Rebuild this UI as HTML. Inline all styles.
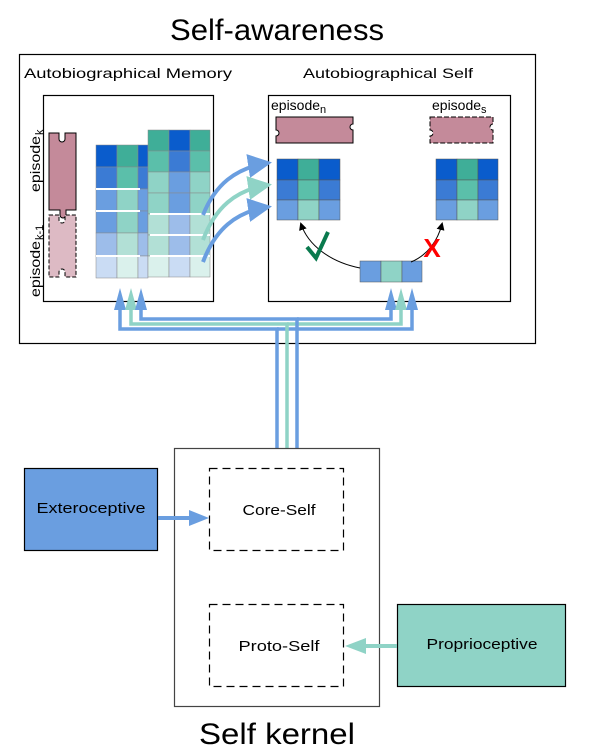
<!DOCTYPE html>
<html><head><meta charset="utf-8"><style>
html,body{margin:0;padding:0;background:#fff;}
svg{display:block;font-family:"Liberation Sans",sans-serif;}
</style></head><body>
<svg width="590" height="752" viewBox="0 0 590 752" xmlns="http://www.w3.org/2000/svg">
<defs>
<marker id="ab" markerWidth="6" markerHeight="6" refX="5" refY="3" orient="auto" markerUnits="strokeWidth"><path d="M0,0 L6,3 L0,6 z" fill="#6a9ee0"/></marker>
<marker id="at" markerWidth="6" markerHeight="6" refX="5" refY="3" orient="auto" markerUnits="strokeWidth"><path d="M0,0 L6,3 L0,6 z" fill="#8fd3c6"/></marker>
<marker id="ak" markerWidth="8" markerHeight="8" refX="6" refY="4" orient="auto" markerUnits="userSpaceOnUse"><path d="M0,0 L8,4 L0,8 z" fill="#000"/></marker>
</defs>

<text x="277" y="40" font-size="30" text-anchor="middle" textLength="214" lengthAdjust="spacingAndGlyphs">Self-awareness</text>
<rect x="19.5" y="54.5" width="516" height="289" fill="none" stroke="#000" stroke-width="1.2"/>
<text x="128" y="78" font-size="14" text-anchor="middle" textLength="208" lengthAdjust="spacingAndGlyphs">Autobiographical Memory</text>
<text x="388" y="78" font-size="14" text-anchor="middle" textLength="170" lengthAdjust="spacingAndGlyphs">Autobiographical Self</text>

<rect x="43.5" y="95.5" width="170" height="206" fill="none" stroke="#000" stroke-width="1.2"/>
<rect x="268.5" y="95.5" width="242" height="206" fill="none" stroke="#000" stroke-width="1.2"/>

<!-- episode labels left -->
<text transform="translate(40,192) rotate(-90)" font-size="14" textLength="56" lengthAdjust="spacingAndGlyphs">episode</text>
<text transform="translate(43,135) rotate(-90)" font-size="11">k</text>
<text transform="translate(40,297) rotate(-90)" font-size="14" textLength="56" lengthAdjust="spacingAndGlyphs">episode</text>
<text transform="translate(43,240) rotate(-90)" font-size="11">k-1</text>

<path d="M49,133 h10 v6 a3,3 0 0 0 6,0 v-6 h11 v77 h-10 v5 a3,3 0 0 1 -6,0 v-5 h-11 z" fill="#c48a9a" stroke="#000" stroke-width="1"/>
<path d="M49,215 h10 v5 a3,3 0 0 0 6,0 v-5 h11 v62 h-11 v-5 a3,3 0 0 0 -6,0 v5 h-10 z" fill="#ddbac4" stroke="#000" stroke-width="1" stroke-dasharray="4,2"/>

<!-- left grid -->
<g stroke="#888" stroke-width="0.5">
<rect x="96" y="145" width="21" height="22" fill="#0a5ccc"/><rect x="117" y="145" width="21" height="22" fill="#3fae98"/><rect x="138" y="145" width="10" height="22" fill="#0a5ccc"/>
<rect x="96" y="167" width="21" height="22" fill="#3b7bd4"/><rect x="117" y="167" width="21" height="22" fill="#5bbfaa"/><rect x="138" y="167" width="10" height="22" fill="#3b7bd4"/>
<rect x="96" y="189" width="21" height="22" fill="#6a9ee0"/><rect x="117" y="189" width="21" height="22" fill="#8fd3c6"/><rect x="138" y="189" width="10" height="22" fill="#6a9ee0"/>
<rect x="96" y="211" width="21" height="22" fill="#6a9ee0"/><rect x="117" y="211" width="21" height="22" fill="#8fd3c6"/><rect x="138" y="211" width="10" height="22" fill="#6a9ee0"/>
<rect x="96" y="233" width="21" height="23" fill="#9dbdea"/><rect x="117" y="233" width="21" height="23" fill="#b2e0d6"/><rect x="138" y="233" width="10" height="23" fill="#9dbdea"/>
<rect x="96" y="256" width="21" height="22" fill="#cadcf4"/><rect x="117" y="256" width="21" height="22" fill="#daf1ec"/><rect x="138" y="256" width="10" height="22" fill="#cadcf4"/>

<rect x="148" y="130" width="21" height="21" fill="#3fae98"/><rect x="169" y="130" width="21" height="21" fill="#0a5ccc"/><rect x="190" y="130" width="20" height="21" fill="#3fae98"/>
<rect x="148" y="151" width="21" height="21" fill="#5bbfaa"/><rect x="169" y="151" width="21" height="21" fill="#3b7bd4"/><rect x="190" y="151" width="20" height="21" fill="#5bbfaa"/>
<rect x="148" y="172" width="21" height="21" fill="#8fd3c6"/><rect x="169" y="172" width="21" height="21" fill="#6a9ee0"/><rect x="190" y="172" width="20" height="21" fill="#8fd3c6"/>
<rect x="148" y="193" width="21" height="21" fill="#8fd3c6"/><rect x="169" y="193" width="21" height="21" fill="#6a9ee0"/><rect x="190" y="193" width="20" height="21" fill="#8fd3c6"/>
<rect x="148" y="214" width="21" height="21" fill="#b2e0d6"/><rect x="169" y="214" width="21" height="21" fill="#9dbdea"/><rect x="190" y="214" width="20" height="21" fill="#b2e0d6"/>
<rect x="148" y="235" width="21" height="21" fill="#b2e0d6"/><rect x="169" y="235" width="21" height="21" fill="#9dbdea"/><rect x="190" y="235" width="20" height="21" fill="#b2e0d6"/>
<rect x="148" y="256" width="21" height="21" fill="#daf1ec"/><rect x="169" y="256" width="21" height="21" fill="#cadcf4"/><rect x="190" y="256" width="20" height="21" fill="#daf1ec"/>
</g>
<g stroke="#fff" stroke-width="2">
<line x1="96" y1="189" x2="140" y2="189"/><line x1="96" y1="211" x2="140" y2="211"/><line x1="96" y1="256" x2="140" y2="256"/>
<line x1="150" y1="214" x2="210" y2="214"/><line x1="150" y1="235" x2="210" y2="235"/><line x1="150" y1="256" x2="210" y2="256"/>
</g>

<!-- curved arrows to right -->
<path d="M203,215 C215,185 235,168 268,163" fill="none" stroke="#6a9ee0" stroke-width="4" marker-end="url(#ab)"/>
<path d="M203,240 C215,208 235,190 268,185" fill="none" stroke="#8fd3c6" stroke-width="4" marker-end="url(#at)"/>
<path d="M203,262 C215,230 235,212 268,207" fill="none" stroke="#6a9ee0" stroke-width="4" marker-end="url(#ab)"/>

<!-- right box contents -->
<text x="271" y="110" font-size="14">episode</text><text x="320" y="113" font-size="11">n</text>
<text x="432" y="110" font-size="14">episode</text><text x="481" y="113" font-size="11">s</text>
<path d="M276,117 h77 v7 a3,3 0 0 0 0,6 v13 h-77 v-7 a3,3 0 0 0 0,-6 z" fill="#c48a9a" stroke="#000" stroke-width="1"/>
<path d="M430,117 h63 v7 a3,3 0 0 0 0,6 v13 h-63 v-7 a3,3 0 0 0 0,-6 z" fill="#c48a9a" stroke="#000" stroke-width="1" stroke-dasharray="5,2"/>

<g stroke="#555" stroke-width="0.5">
<rect x="277" y="159" width="21" height="21" fill="#0a5ccc"/><rect x="298" y="159" width="21" height="21" fill="#3fae98"/><rect x="319" y="159" width="21" height="21" fill="#0a5ccc"/>
<rect x="277" y="180" width="21" height="20" fill="#3b7bd4"/><rect x="298" y="180" width="21" height="20" fill="#5bbfaa"/><rect x="319" y="180" width="21" height="20" fill="#3b7bd4"/>
<rect x="277" y="200" width="21" height="20" fill="#6a9ee0"/><rect x="298" y="200" width="21" height="20" fill="#8fd3c6"/><rect x="319" y="200" width="21" height="20" fill="#6a9ee0"/>
<rect x="436" y="159" width="21" height="21" fill="#0a5ccc"/><rect x="457" y="159" width="21" height="21" fill="#3fae98"/><rect x="478" y="159" width="20" height="21" fill="#0a5ccc"/>
<rect x="436" y="180" width="21" height="20" fill="#3b7bd4"/><rect x="457" y="180" width="21" height="20" fill="#5bbfaa"/><rect x="478" y="180" width="20" height="20" fill="#3b7bd4"/>
<rect x="436" y="200" width="21" height="20" fill="#6a9ee0"/><rect x="457" y="200" width="21" height="20" fill="#8fd3c6"/><rect x="478" y="200" width="20" height="20" fill="#6a9ee0"/>
<rect x="360" y="261" width="21" height="21" fill="#6a9ee0"/><rect x="381" y="261" width="21" height="21" fill="#8fd3c6"/><rect x="402" y="261" width="20" height="21" fill="#6a9ee0"/>
</g>
<path d="M360,268 C330,262 308,245 301,224" fill="none" stroke="#000" stroke-width="1" marker-end="url(#ak)"/>
<path d="M411,262 C428,255 438,240 442,224" fill="none" stroke="#000" stroke-width="1" marker-end="url(#ak)"/>
<path d="M307,247 L316,258 L328,232" fill="none" stroke="#0a7a4e" stroke-width="4"/>
<text x="432" y="257" font-size="26" fill="#ff0000" text-anchor="middle" font-weight="bold">X</text>

<!-- connectors -->
<g fill="none" stroke-width="3.5">
<path d="M277,448 V329 H120 V305" stroke="#6a9ee0"/>
<path d="M277,329 H412 V305" stroke="#6a9ee0"/>
<path d="M287,448 V324 H131 V305" stroke="#8fd3c6"/>
<path d="M287,324 H401 V305" stroke="#8fd3c6"/>
<path d="M297,448 V319 H141 V305" stroke="#6a9ee0"/>
<path d="M297,319 H391 V305" stroke="#6a9ee0"/>
</g>
<g>
<path d="M114,310 L120,288 L126,310 z" fill="#6a9ee0"/>
<path d="M125,310 L131,288 L137,310 z" fill="#8fd3c6"/>
<path d="M135,310 L141,288 L147,310 z" fill="#6a9ee0"/>
<path d="M385,310 L391,288 L397,310 z" fill="#6a9ee0"/>
<path d="M395,310 L401,288 L407,310 z" fill="#8fd3c6"/>
<path d="M406,310 L412,288 L418,310 z" fill="#6a9ee0"/>
</g>

<!-- self kernel -->
<rect x="174.5" y="448.5" width="205" height="258" fill="none" stroke="#444" stroke-width="1.2"/>
<rect x="209.5" y="468.5" width="134" height="82" fill="none" stroke="#000" stroke-width="1.2" stroke-dasharray="8,5"/>
<rect x="209.5" y="604.5" width="134" height="82" fill="none" stroke="#000" stroke-width="1.2" stroke-dasharray="8,5"/>
<text x="279" y="515" font-size="15" text-anchor="middle" textLength="73" lengthAdjust="spacingAndGlyphs">Core-Self</text>
<text x="279" y="651" font-size="15" text-anchor="middle" textLength="81" lengthAdjust="spacingAndGlyphs">Proto-Self</text>
<rect x="24.5" y="468.5" width="133" height="82" fill="#6a9ee0" stroke="#000" stroke-width="1.2"/>
<text x="91" y="513" font-size="15" text-anchor="middle" textLength="109" lengthAdjust="spacingAndGlyphs">Exteroceptive</text>
<rect x="397.5" y="604.5" width="168" height="82" fill="#8fd3c6" stroke="#000" stroke-width="1.2"/>
<text x="482" y="649" font-size="15" text-anchor="middle" textLength="111" lengthAdjust="spacingAndGlyphs">Proprioceptive</text>
<path d="M158,518 H192" stroke="#6a9ee0" stroke-width="4"/>
<path d="M189,510 L209,518 L189,526 z" fill="#6a9ee0"/>
<path d="M397,646 H363" stroke="#8fd3c6" stroke-width="4"/>
<path d="M366,638 L345,646 L366,654 z" fill="#8fd3c6"/>
<text x="277" y="744" font-size="30" text-anchor="middle" textLength="156" lengthAdjust="spacingAndGlyphs">Self kernel</text>
</svg>
</body></html>
